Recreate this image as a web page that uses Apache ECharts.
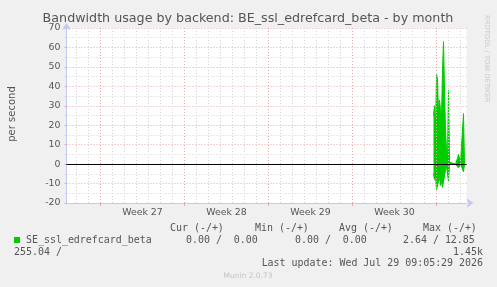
<!DOCTYPE html>
<html>
<head>
<meta charset="utf-8">
<script src="https://cdn.jsdelivr.net/npm/echarts@6/dist/echarts.min.js"></script>
<style>
html,body{margin:0;padding:0;background:#f0f0f0;}
#c{width:497px;height:287px;}
</style>
</head>
<body>
<div id="c"></div>
<script>
// x values: hours since Mon 29 Jun 2026 00:00 (start of Week 27)
const weekLabels = ['Week 27', 'Week 28', 'Week 29', 'Week 30'];
const weekMidHours = [84, 252, 420, 588];
const weekStartHours = [0, 168, 336, 504, 672];
const sampleHours = [666, 668, 670, 672, 674, 676, 678, 680, 682, 684, 686, 688, 690, 692, 694, 696,
  698, 700, 702, 704, 706, 708, 710, 712, 714, 716, 718, 720, 722, 724, 726, 728, 730];
const outValues = [25, 30, 18, 46, 44, 26, 33, 28, 24, 48, 63, 38, 18, 7, 3, 38,
  1, 0.5, 1, 0.5, 0, 0, 0, 0, 3, 5, 4, 1, 0, 0, 26, 0, 0];
const inValues = [-5, -8, -6, -13, -12, -9, -7, -11, -9, -12, -11, -11, -3, -1, -1, -9,
  0, 0, 0, 0, 0, 0, 0, 0, -1, -2, -1, 0, 0, 0, -4, 0, 0];
const yTicks = { min: -20, max: 70, step: 10 };
const xRange = { min: -68, max: 732 };

const GREEN = '#00cc00';
const MAJOR = '#e8a8a8';
const MINOR = '#d4d4d4';
const AXIS = '#c4c9f2';

const outData = sampleHours.map((h, i) => [h, outValues[i]]);
const inData = sampleHours.map((h, i) => [h, inValues[i]]);

const vLines = [];
for (let h = -48; h <= 720; h += 24) {
  const major = weekStartHours.indexOf(h) >= 0;
  vLines.push({ xAxis: h, lineStyle: { color: major ? MAJOR : MINOR, type: [1, 2], width: 1 } });
}

const chart = echarts.init(document.getElementById('c'), null, { renderer: 'canvas' });
const mono = '"DejaVu Sans Mono", monospace';
const sans = '"DejaVu Sans", sans-serif';
const txt = (text, x, y, opts) => Object.assign({
  type: 'text', x: x, y: y, silent: true,
  style: Object.assign({ text: text, font: '9.95px ' + mono, fill: '#555', textVerticalAlign: 'middle' }, opts || {})
});

chart.setOption({
  animation: false,
  backgroundColor: '#f0f0f0',
  grid: { left: 66.5, right: 30.5, top: 28, bottom: 84, show: true, backgroundColor: '#ffffff', borderWidth: 0 },
  xAxis: {
    type: 'value', min: xRange.min, max: xRange.max,
    splitLine: { show: false },
    axisLine: { show: true, onZero: false, lineStyle: { color: AXIS, width: 1 }, symbol: ['none', 'arrow'], symbolSize: [7, 7], symbolOffset: [0, 7] },
    axisTick: { show: true, customValues: weekStartHours, length: 3, lineStyle: { color: MAJOR } },
    axisLabel: {
      customValues: weekMidHours,
      formatter: v => weekLabels[weekMidHours.indexOf(v)] || '',
      color: '#555', fontSize: 9.4, fontFamily: 'DejaVu Sans', margin: 5
    }
  },
  yAxis: {
    type: 'value', min: yTicks.min, max: yTicks.max, interval: yTicks.step,
    axisLine: { show: true, onZero: false, lineStyle: { color: AXIS, width: 1 }, symbol: ['none', 'arrow'], symbolSize: [7, 7], symbolOffset: [0, 5] },
    axisTick: { show: true, length: 2, lineStyle: { color: MAJOR } },
    minorTick: { show: true, splitNumber: 2, length: 2, lineStyle: { color: MINOR } },
    splitLine: { show: true, lineStyle: { color: MAJOR, type: [1, 2], width: 1 } },
    minorSplitLine: { show: true, lineStyle: { color: MINOR, type: [1, 2], width: 1 } },
    axisLabel: { color: '#555', fontSize: 9.4, fontFamily: 'DejaVu Sans', margin: 6 }
  },
  series: [
    {
      name: 'grid', type: 'line', data: [], z: 1, silent: true,
      markLine: { silent: true, symbol: 'none', label: { show: false }, animation: false, data: vLines }
    },
    {
      name: 'SE_ssl_edrefcard_beta out', type: 'line', data: outData, z: 3,
      showSymbol: false, symbol: 'none',
      lineStyle: { color: GREEN, width: 1 }, areaStyle: { color: GREEN, opacity: 1 }
    },
    {
      name: 'SE_ssl_edrefcard_beta in', type: 'line', data: inData, z: 3,
      showSymbol: false, symbol: 'none',
      lineStyle: { color: GREEN, width: 1 }, areaStyle: { color: GREEN, opacity: 1 }
    },
    {
      name: 'zero', type: 'line', data: [], z: 5, silent: true,
      markLine: { silent: true, symbol: 'none', label: { show: false }, animation: false,
        data: [{ yAxis: 0, lineStyle: { color: '#000', type: 'solid', width: 1 } }] }
    }
  ],
  graphic: [
    txt('Bandwidth usage by backend: BE_ssl_edrefcard_beta - by month', 248, 19,
      { font: '12.7px ' + sans, textAlign: 'center', fill: '#555' }),
    { type: 'text', x: 12, y: 114, rotation: Math.PI / 2, silent: true,
      style: { text: 'per second', font: '10px ' + sans, fill: '#555', textAlign: 'center', textVerticalAlign: 'middle' } },
    { type: 'text', x: 487, y: 15, rotation: -Math.PI / 2, silent: true,
      style: { text: 'RRDTOOL / TOBI OETIKER', font: '6.8px ' + sans, fill: '#c8c8c8', textAlign: 'left', textVerticalAlign: 'middle' } },
    txt('Cur (-/+)', 170, 228),
    txt('Min (-/+)', 255, 228),
    txt('Avg (-/+)', 339, 228),
    txt('Max (-/+)', 423, 228),
    { type: 'rect', shape: { x: 14, y: 237, width: 6, height: 6 }, style: { fill: GREEN }, silent: true },
    txt('SE_ssl_edrefcard_beta', 26, 240),
    txt('0.00 /  0.00', 186, 240),
    txt('0.00 /  0.00', 295, 240),
    txt('2.64 / 12.85', 403, 240),
    txt('255.04 /', 14, 252),
    txt('1.45k', 483, 252, { textAlign: 'right' }),
    txt('Last update: Wed Jul 29 09:05:29 2026', 483, 263.5, { textAlign: 'right' }),
    txt('Munin 2.0.73', 248, 276, { font: '7.5px ' + sans, fill: '#c4c4c4', textAlign: 'center' })
  ]
});
</script>
</body>
</html>
